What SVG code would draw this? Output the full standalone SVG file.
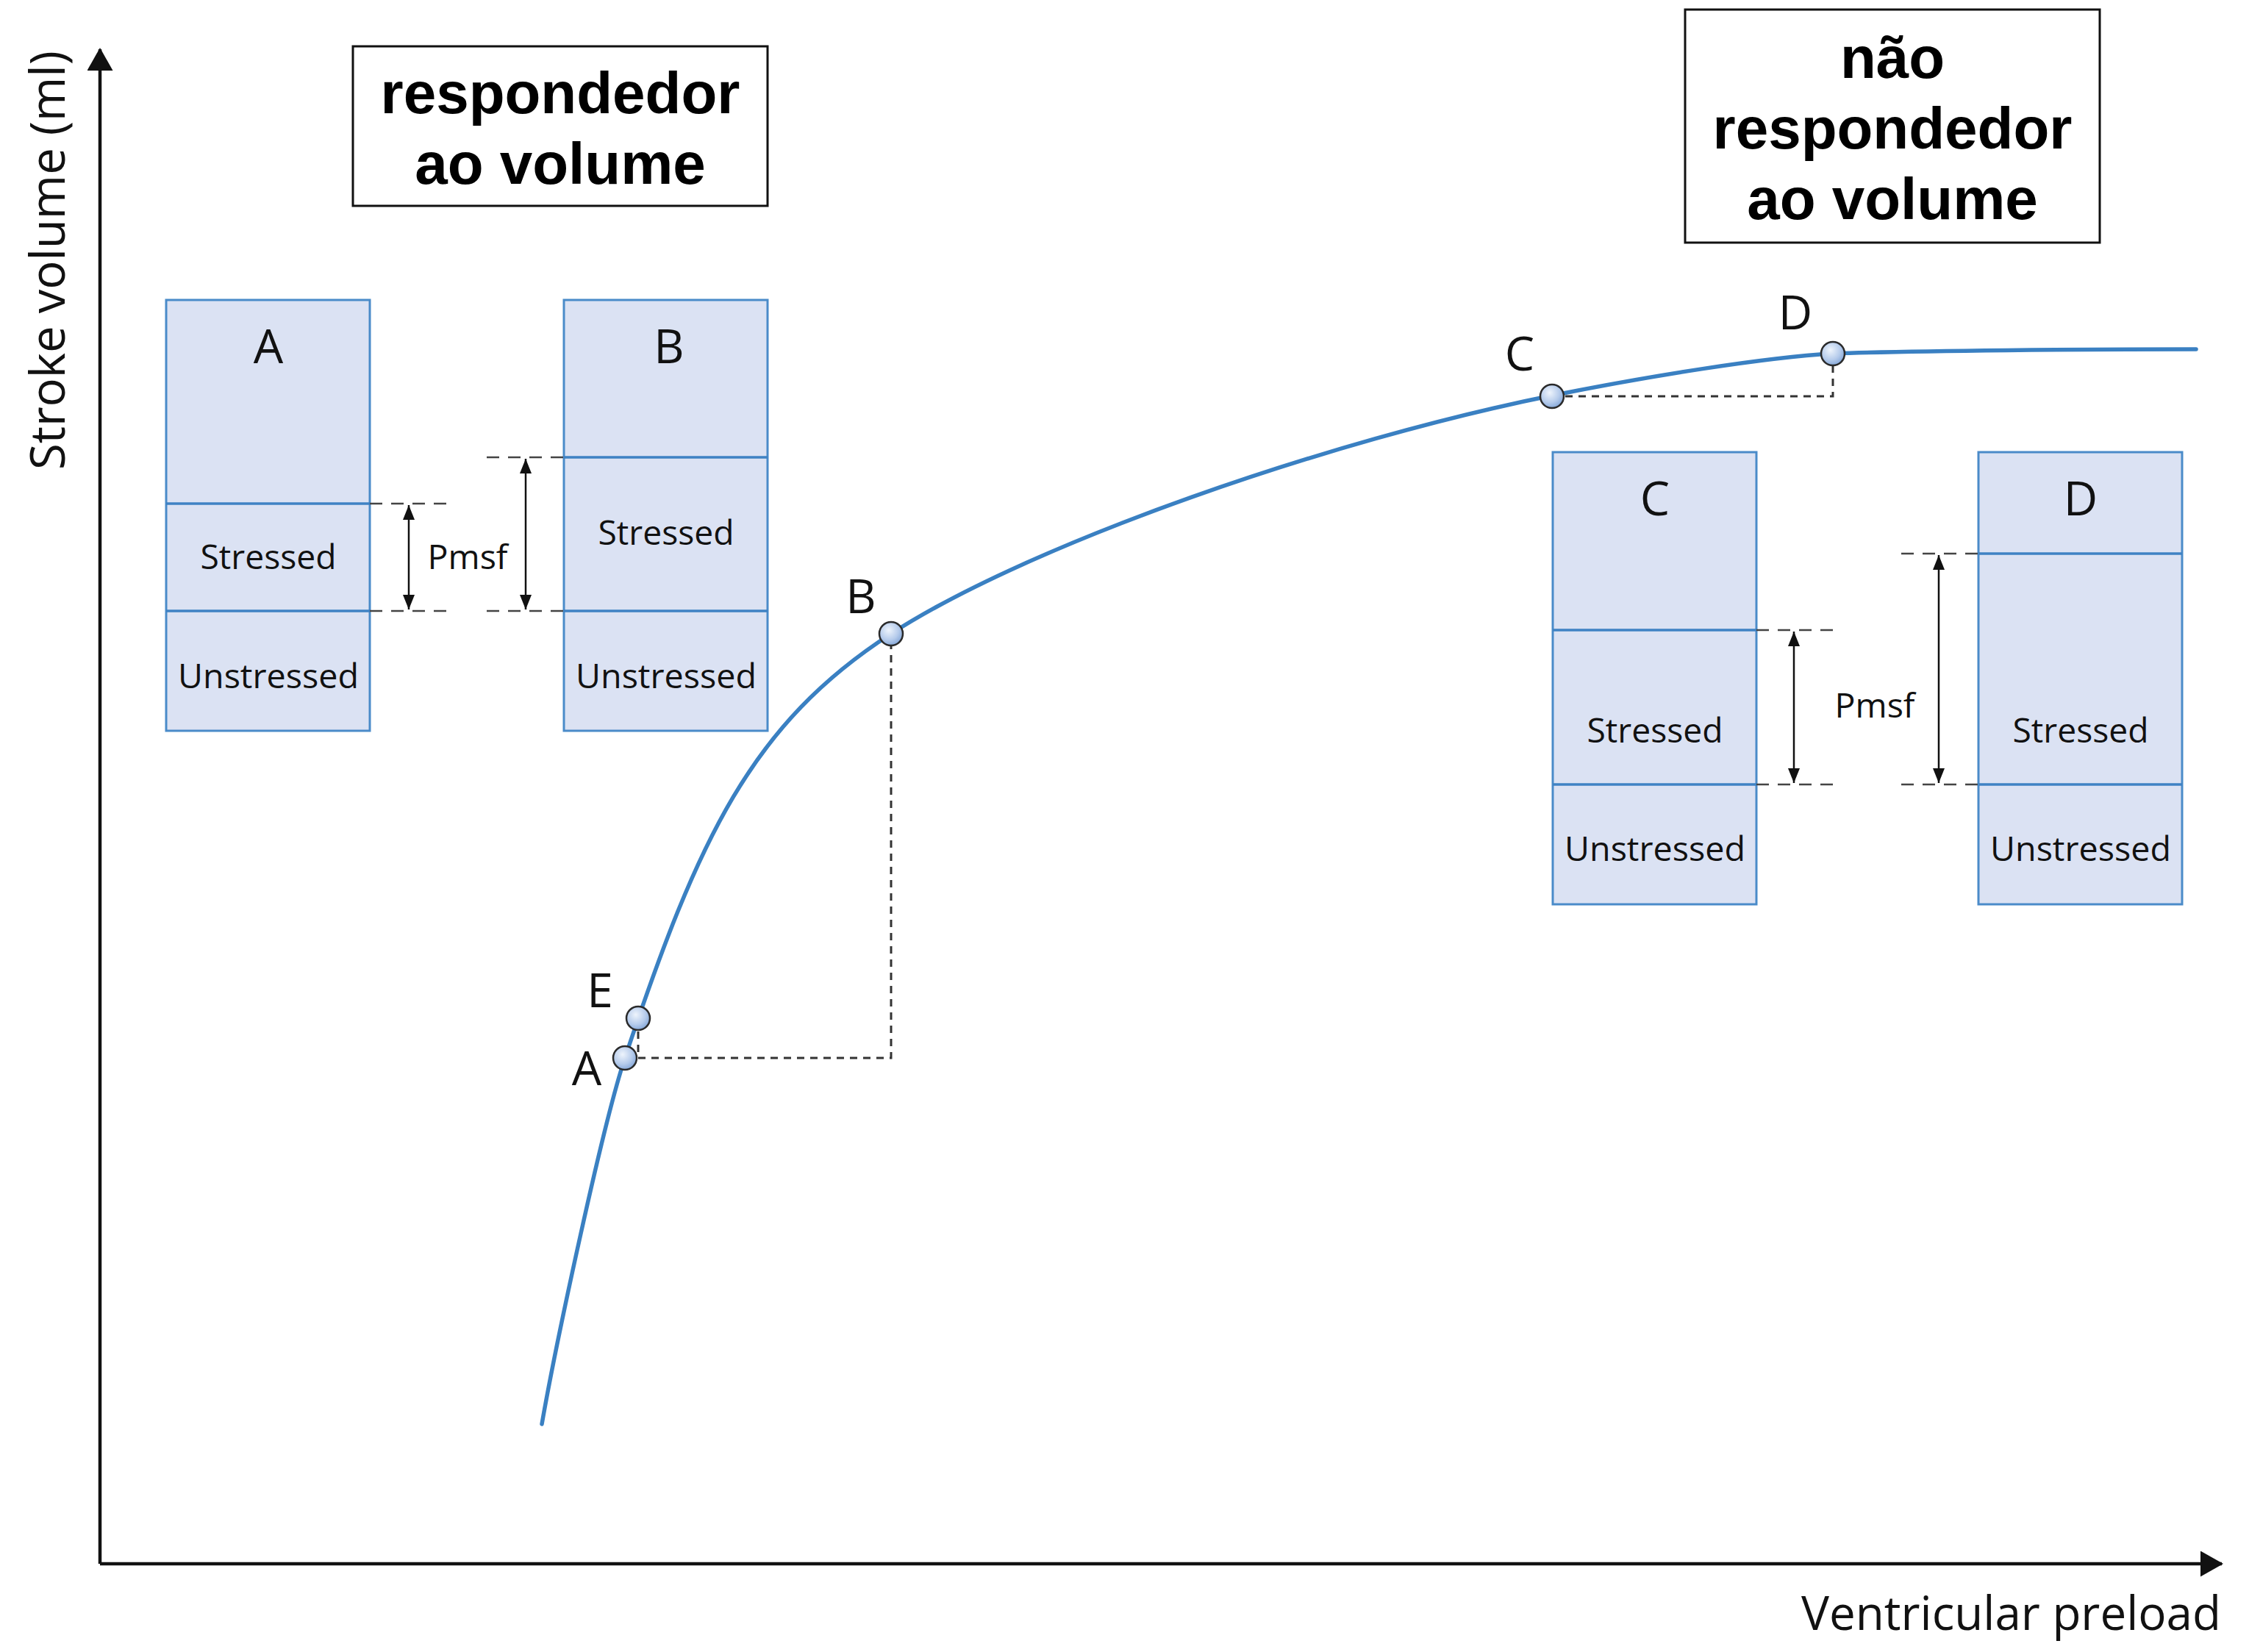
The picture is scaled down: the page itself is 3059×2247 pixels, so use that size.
<svg xmlns="http://www.w3.org/2000/svg" width="3059" height="2247" viewBox="0 0 3059 2247">
  <style>
    .lbl { font-family: "Open Sans", "DejaVu Sans", sans-serif; fill: #111; text-anchor: middle; }
    .big { font-size: 64px; }
    .mid { font-size: 46px; }
    .title { font-family: "Liberation Sans", Arial, sans-serif; font-weight: bold; font-size: 80px; fill: #000; text-anchor: middle; }
    .tbox { fill: #fff; stroke: #111; stroke-width: 3; }
    .vol { fill: #dbe2f3; stroke: #4a8bc9; stroke-width: 3; }
    .div { stroke: #3f82c4; stroke-width: 3.5; fill: none; }
    .ext { stroke: #444; stroke-width: 2.5; stroke-dasharray: 17 12; fill: none; }
    .dim { stroke: #111; stroke-width: 2.5; fill: none; marker-start: url(#dimHead); marker-end: url(#dimHead); }
    .guide { stroke: #333; stroke-width: 3; stroke-dasharray: 10 8; fill: none; }
    .curve { stroke: #3a80c2; stroke-width: 5.5; fill: none; stroke-linecap: round; stroke-linejoin: round; }
    .axis { stroke: #111; stroke-width: 4.5; fill: none; }
    .pt { fill: url(#ptFill); stroke: #2a2a2a; stroke-width: 2.5; }
  </style>
  <defs>
    <marker id="dimHead" viewBox="0 0 20 16" refX="20" refY="8" markerWidth="20" markerHeight="16" markerUnits="userSpaceOnUse" orient="auto-start-reverse">
      <path d="M0,0 L20,8 L0,16 z" fill="#111"/>
    </marker>
    <marker id="axisHead" viewBox="0 0 31 35" refX="29" refY="17.5" markerWidth="31" markerHeight="35" markerUnits="userSpaceOnUse" orient="auto">
      <path d="M0,0 L31,17.5 L0,35 z" fill="#111"/>
    </marker>
    <radialGradient id="ptFill" cx="0.4" cy="0.35" r="0.7">
      <stop offset="0" stop-color="#eef4fc"/>
      <stop offset="0.6" stop-color="#b5cbeb"/>
      <stop offset="1" stop-color="#7fa3d6"/>
    </radialGradient>
  </defs>

  <rect x="0" y="0" width="3059" height="2247" fill="#fff"/>

  <!-- axes -->
  <g id="axes">
    <path class="axis" d="M136,2127 V67" marker-end="url(#axisHead)"/>
    <path class="axis" d="M136,2127 H3022" marker-end="url(#axisHead)"/>
    <text class="lbl" font-size="65" transform="translate(88,354) rotate(-90)" textLength="570" lengthAdjust="spacingAndGlyphs">Stroke volume (ml)</text>
    <text class="lbl big" x="3021" y="2217" style="text-anchor:end" textLength="571" lengthAdjust="spacingAndGlyphs">Ventricular preload</text>
  </g>

  <!-- headline boxes -->
  <g id="responder">
    <rect class="tbox" x="480" y="63" width="564" height="217"/>
    <text class="title" x="762" y="154">respondedor</text>
    <text class="title" x="762" y="250">ao volume</text>
  </g>
  <g id="non-responder">
    <rect class="tbox" x="2292" y="13" width="564" height="317"/>
    <text class="title" x="2574" y="106">não</text>
    <text class="title" x="2574" y="202">respondedor</text>
    <text class="title" x="2574" y="298">ao volume</text>
  </g>

  <!-- volume compartment bars -->
  <g id="bar-A">
    <rect class="vol" x="226" y="408" width="277" height="586"/>
    <path class="div" d="M226,685 H503 M226,831 H503"/>
    <text class="lbl big" x="365" y="494">A</text>
    <text class="lbl mid" x="365" y="774" textLength="185" lengthAdjust="spacingAndGlyphs">Stressed</text>
    <text class="lbl mid" x="365" y="936" textLength="246" lengthAdjust="spacingAndGlyphs">Unstressed</text>
  </g>
  <g id="bar-B">
    <rect class="vol" x="767" y="408" width="277" height="586"/>
    <path class="div" d="M767,622 H1044 M767,831 H1044"/>
    <text class="lbl big" x="910" y="494">B</text>
    <text class="lbl mid" x="906" y="741" textLength="185" lengthAdjust="spacingAndGlyphs">Stressed</text>
    <text class="lbl mid" x="906" y="936" textLength="246" lengthAdjust="spacingAndGlyphs">Unstressed</text>
  </g>
  <g id="bar-C">
    <rect class="vol" x="2112" y="615" width="277" height="615"/>
    <path class="div" d="M2112,857 H2389 M2112,1067 H2389"/>
    <text class="lbl big" x="2251" y="701">C</text>
    <text class="lbl mid" x="2251" y="1010" textLength="185" lengthAdjust="spacingAndGlyphs">Stressed</text>
    <text class="lbl mid" x="2251" y="1171" textLength="246" lengthAdjust="spacingAndGlyphs">Unstressed</text>
  </g>
  <g id="bar-D">
    <rect class="vol" x="2691" y="615" width="277" height="615"/>
    <path class="div" d="M2691,753 H2968 M2691,1067 H2968"/>
    <text class="lbl big" x="2830" y="701">D</text>
    <text class="lbl mid" x="2830" y="1010" textLength="185" lengthAdjust="spacingAndGlyphs">Stressed</text>
    <text class="lbl mid" x="2830" y="1171" textLength="246" lengthAdjust="spacingAndGlyphs">Unstressed</text>
  </g>

  <!-- mean systemic filling pressure dimensions -->
  <g id="pmsf-left">
    <path class="ext" d="M503,685 H608 M503,831 H608 M662,622 H767 M662,831 H767"/>
    <path class="dim" d="M556,687 V829"/>
    <path class="dim" d="M715,624 V829"/>
    <text class="lbl mid" x="636" y="774" textLength="109" lengthAdjust="spacingAndGlyphs">Pmsf</text>
  </g>
  <g id="pmsf-right">
    <path class="ext" d="M2389,857 H2495 M2389,1067 H2495 M2586,753 H2691 M2586,1067 H2691"/>
    <path class="dim" d="M2440,859 V1065"/>
    <path class="dim" d="M2637,755 V1065"/>
    <text class="lbl mid" x="2550" y="976" textLength="109" lengthAdjust="spacingAndGlyphs">Pmsf</text>
  </g>

  <!-- Frank-Starling curve and guide lines -->
  <g id="connectors">
    <path class="guide" d="M868,1385 V1439 H1212 V862"/>
    <path class="guide" d="M2111,539 H2493 V481"/>
    <path class="curve" d="M737,1937 C757,1823 820,1529 850,1439 C950,1139 1022,985 1212,862 C1402,739 1811,598 2111,538 C2241,512 2400,486 2493,481 C2600,477 2850,475 2987,475"/>
  </g>

  <!-- operating points -->
  <g id="point-A">
    <circle class="pt" cx="850" cy="1439" r="16"/>
    <text class="lbl big" x="798" y="1476">A</text>
  </g>
  <g id="point-E">
    <circle class="pt" cx="868" cy="1385" r="16"/>
    <text class="lbl big" x="816" y="1370">E</text>
  </g>
  <g id="point-B">
    <circle class="pt" cx="1212" cy="862" r="16"/>
    <text class="lbl big" x="1171" y="834">B</text>
  </g>
  <g id="point-C">
    <circle class="pt" cx="2111" cy="539" r="16"/>
    <text class="lbl big" x="2067" y="504">C</text>
  </g>
  <g id="point-D">
    <circle class="pt" cx="2493" cy="481" r="16"/>
    <text class="lbl big" x="2442" y="448">D</text>
  </g>
</svg>
